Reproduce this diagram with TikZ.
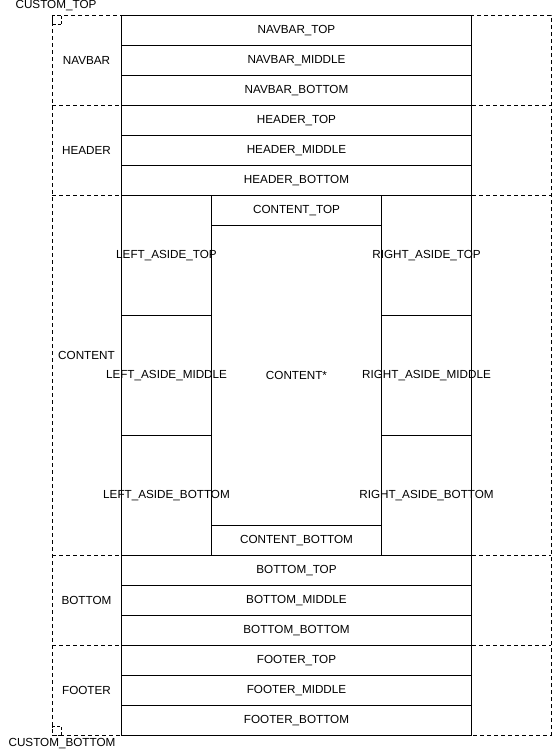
\documentclass[tikz,border=0pt]{standalone}
\usepackage{fontspec}
\setmainfont{Liberation Sans}
\usetikzlibrary{positioning}

\begin{document}
\begin{tikzpicture}[x=1pt,y=-1pt,line width=1pt,font=\fontsize{11.7}{14}\selectfont,
    region/.style={minimum width=499pt,inner sep=0pt,outer sep=0pt,anchor=north west},
    frame/.style={dash pattern=on 4pt off 3pt},
    slot/.style={draw,minimum width=350pt,minimum height=30pt,inner sep=0pt,anchor=north west},
    aside/.style={slot,minimum width=90pt,minimum height=120pt},
    marker/.style={draw,dash pattern=on 3pt off 2pt,minimum size=9pt,inner sep=0pt,anchor=north west}]
  \useasboundingbox (0,0) rectangle (552,750);
  % dashed sections
  \foreach \sec/\top/\h in {NAVBAR/15/90,HEADER/105/90,CONTENT/195/360,BOTTOM/555/90,FOOTER/645/90}
    \node[region,minimum height=\h pt] (\sec) at (52,\top) {};
  \draw[frame] (NAVBAR.north west) rectangle (FOOTER.south east);
  \foreach \sec in {NAVBAR,HEADER,CONTENT,BOTTOM}
    \draw[frame] (\sec.south west) -- (\sec.south east);
  \foreach \sec/\y in {NAVBAR/60,HEADER/150,CONTENT/355,BOTTOM/600,FOOTER/690}
    \node (\sec-title) at (86.5,\y) {\sec};
  % stacked rows
  \foreach \sec/\top in {NAVBAR/15,HEADER/105,BOTTOM/555,FOOTER/645}
    \foreach \part [count=\i from 0] in {TOP,MIDDLE,BOTTOM}
      \node[slot] (\sec-\part) at (121,\top+30*\i) {\sec\_\part};
  % content block
  \node[slot,minimum width=170pt] (CONTENT-TOP) at (211,195) {CONTENT\_TOP};
  \node[slot,minimum width=170pt,minimum height=300pt] (CONTENT-MAIN) at (211,225) {CONTENT*};
  \node[slot,minimum width=170pt] (CONTENT-BOTTOM) at (211,525) {CONTENT\_BOTTOM};
  \foreach \part [count=\i from 0] in {TOP,MIDDLE,BOTTOM} {
    \node[aside,label={center:LEFT\_ASIDE\_\part}] (LEFT-\part) at (121,195+120*\i) {};
    \node[aside,label={center:RIGHT\_ASIDE\_\part}] (RIGHT-\part) at (381,195+120*\i) {};
  }
  % custom markers
  \node[marker] (CUSTOM-TOP) at (52,15) {};
  \node (CUSTOM-TOP-title) at (56,6) {CUSTOM\_TOP};
  \node[marker] (CUSTOM-BOTTOM) at (52,726) {};
  \node (CUSTOM-BOTTOM-title) at (62,744) {CUSTOM\_BOTTOM};
\end{tikzpicture}
\end{document}
